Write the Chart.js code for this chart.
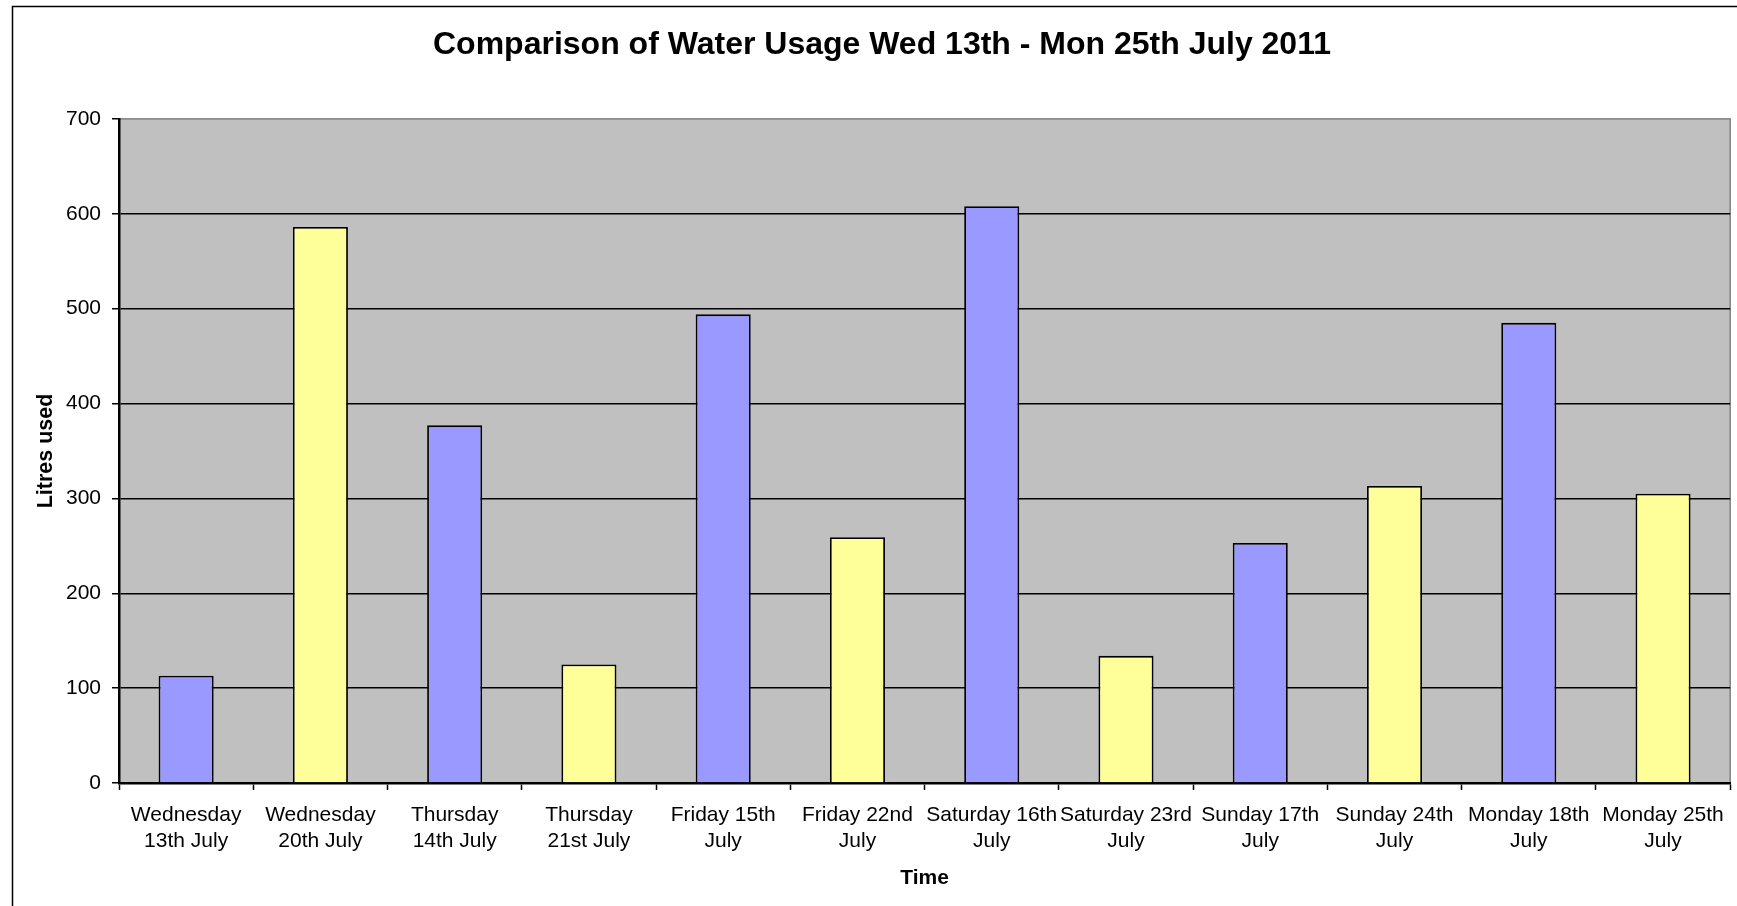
<!DOCTYPE html>
<html>
<head>
<meta charset="utf-8">
<script src="https://cdn.jsdelivr.net/npm/chart.js@4/dist/chart.umd.min.js"></script>
<style>
  html, body { margin: 0; padding: 0; background: #fff; }
  #wrap { width: 1737px; height: 906px; position: relative; }
</style>
</head>
<body>
<div id="wrap"><canvas id="chart"></canvas></div>
<script>
const days = [
  ["Wednesday", "13th July"], ["Wednesday", "20th July"],
  ["Thursday", "14th July"], ["Thursday", "21st July"],
  ["Friday 15th", "July"], ["Friday 22nd", "July"],
  ["Saturday 16th", "July"], ["Saturday 23rd", "July"],
  ["Sunday 17th", "July"], ["Sunday 24th", "July"],
  ["Monday 18th", "July"], ["Monday 25th", "July"]
];
const litresUsed = [113, 586, 377, 125, 494, 259, 608, 134, 253, 313, 485, 305];
const week = [1, 2, 1, 2, 1, 2, 1, 2, 1, 2, 1, 2];
const yTicks = [0, 100, 200, 300, 400, 500, 600, 700];

const weekColors = { 1: "#9999FF", 2: "#FFFF99" };
const font = "'Liberation Sans', Arial, sans-serif";

// white page, outer frame and grey plot area
const backdrop = {
  id: "backdrop",
  beforeDraw(chart) {
    const { ctx, chartArea: a } = chart;
    ctx.save();
    ctx.fillStyle = "#fff";
    ctx.fillRect(0, 0, chart.width, chart.height);
    ctx.strokeStyle = "#000";
    ctx.lineWidth = 1.5;
    ctx.strokeRect(12.5, 6.5, chart.width + 20, chart.height + 20);
    ctx.fillStyle = "#C0C0C0";
    ctx.fillRect(a.left, a.top, a.right - a.left, a.bottom - a.top);
    ctx.strokeStyle = "#808080";
    ctx.lineWidth = 1.5;
    ctx.strokeRect(a.left, a.top, a.right - a.left, a.bottom - a.top);
    ctx.restore();
  }
};

new Chart(document.getElementById("chart"), {
  type: "bar",
  data: {
    labels: days,
    datasets: [{
      data: litresUsed,
      backgroundColor: week.map(w => weekColors[w]),
      borderColor: "#000",
      borderWidth: 1.8,
      barPercentage: 0.41,
      categoryPercentage: 1
    }]
  },
  options: {
    responsive: true,
    maintainAspectRatio: false,
    animation: false,
    // left padding pushes the title centre right, as in the original frame
    layout: { padding: { left: 33, right: 6, top: 0, bottom: 0 } },
    plugins: {
      legend: { display: false },
      tooltip: { enabled: false },
      title: {
        display: true,
        text: "Comparison of Water Usage Wed 13th - Mon 25th July 2011",
        color: "#000",
        font: { family: font, size: 32, weight: "bold" },
        padding: { top: 26, bottom: 54.5 }
      }
    },
    scales: {
      x: {
        afterFit(scale) { scale.height = 123; },
        grid: { drawOnChartArea: false, drawTicks: true, tickLength: 7, tickColor: "#000", tickWidth: 1.5 },
        border: { color: "#000", width: 2.5 },
        ticks: {
          color: "#000",
          autoSkip: false,
          maxRotation: 0,
          padding: 13,
          font: { family: font, size: 21, lineHeight: 1.2 }
        },
        title: {
          display: true,
          text: "Time",
          color: "#000",
          font: { family: font, size: 21, weight: "bold" },
          padding: { top: 0, bottom: 15 }
        }
      },
      y: {
        min: 0,
        max: 700,
        afterFit(scale) { scale.width = 86; },
        afterBuildTicks(scale) { scale.ticks = yTicks.map(v => ({ value: v })); },
        grid: {
          color: ctx => ctx.tick && ctx.tick.value === 700 ? "rgba(0,0,0,0)" : "#000",
          lineWidth: 1.5,
          tickLength: 7,
          tickColor: "#000",
          tickWidth: 1.5
        },
        border: { color: "#000", width: 2.5 },
        ticks: {
          color: "#000",
          padding: 11,
          font: { family: font, size: 21 }
        },
        title: {
          display: true,
          text: "Litres used",
          color: "#000",
          font: { family: font, size: 21.5, weight: "bold" },
          padding: { top: 0, bottom: 0 }
        }
      }
    }
  },
  plugins: [backdrop]
});
</script>
</body>
</html>
